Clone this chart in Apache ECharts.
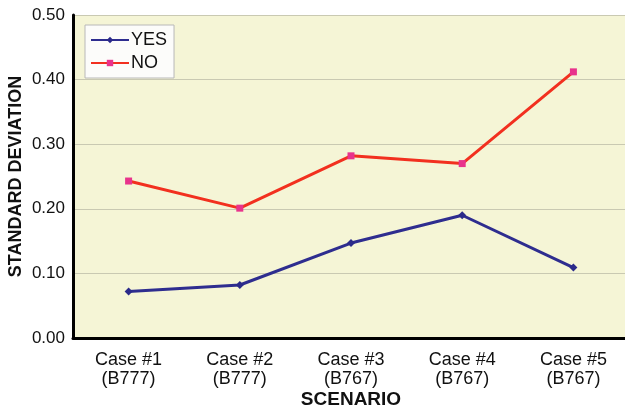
<!DOCTYPE html>
<html>
<head>
<meta charset="utf-8">
<script src="https://cdn.jsdelivr.net/npm/echarts@6/dist/echarts.min.js"></script>
<style>
  html, body { margin: 0; padding: 0; background: #fff; overflow: hidden; }
  /* 比窗口稍宽，绘图区右边被裁掉 */
  #chart { width: 640px; height: 410px; }
</style>
</head>
<body>
<div id="chart"></div>
<script>
// 数据
var categories = ["Case #1\n(B777)", "Case #2\n(B777)", "Case #3\n(B767)", "Case #4\n(B767)", "Case #5\n(B767)"];
var yesValues = [0.072, 0.082, 0.147, 0.190, 0.109];
var noValues = [0.243, 0.201, 0.282, 0.270, 0.412];

var fontFamily = "Liberation Sans, Arial, sans-serif";

var myChart = echarts.init(document.getElementById("chart"));

var option = {
  animation: false,
  backgroundColor: "#fff",
  grid: {
    left: 73,
    top: 15,
    width: 556,
    height: 323,
    outerBoundsMode: "none",
    containLabel: false,
    show: true,
    backgroundColor: "#f5f5d6",
    borderWidth: 0,
  },
  legend: {
    orient: "vertical",
    left: 85,
    top: 25,
    padding: [6, 7, 6, 5],
    itemGap: 5,
    itemWidth: 38,
    itemHeight: 8,
    backgroundColor: "#fcfcfa",
    borderColor: "#b8b8b8",
    borderWidth: 1,
    borderRadius: 0,
    textStyle: { fontFamily: fontFamily, fontSize: 18, color: "#111", padding: [0, 0, 0, -3] },
    data: ["YES", "NO"],
  },
  xAxis: {
    type: "category",
    data: categories,
    name: "SCENARIO",
    nameLocation: "middle",
    nameGap: 52,
    nameMoveOverlap: false,
    nameTextStyle: { fontFamily: fontFamily, fontSize: 19, fontWeight: "bold", color: "#111" },
    axisLine: { lineStyle: { color: "#000", width: 3 } },
    axisTick: { alignWithLabel: true, inside: true, length: 4, lineStyle: { color: "#333", width: 1 } },
    axisLabel: { fontFamily: fontFamily, fontSize: 18, color: "#111", lineHeight: 19, margin: 13 },
    splitLine: { show: false },
  },
  yAxis: {
    type: "value",
    min: 0,
    max: 0.5,
    interval: 0.1,
    name: "STANDARD DEVIATION",
    nameLocation: "middle",
    nameGap: 48,
    nameMoveOverlap: false,
    nameTextStyle: { fontFamily: fontFamily, fontSize: 18, fontWeight: "bold", color: "#111" },
    axisLine: { show: true, lineStyle: { color: "#000", width: 3 } },
    axisTick: { show: false },
    axisLabel: {
      fontFamily: fontFamily,
      fontSize: 17,
      color: "#111",
      margin: 8,
      formatter: function (v) { return v.toFixed(2); },
    },
    splitLine: { lineStyle: { color: "#c9c9b2", width: 1 } },
  },
  series: [
    {
      name: "YES",
      type: "line",
      data: yesValues,
      symbol: "diamond",
      symbolSize: 8,
      itemStyle: { color: "#2b2a8a" },
      lineStyle: { color: "#2e2d8f", width: 3 },
    },
    {
      name: "NO",
      type: "line",
      data: noValues,
      symbol: "rect",
      symbolSize: 7,
      itemStyle: { color: "#e8338c" },
      lineStyle: { color: "#f2301f", width: 3 },
    },
  ],
};

myChart.setOption(option, true);
</script>
</body>
</html>
